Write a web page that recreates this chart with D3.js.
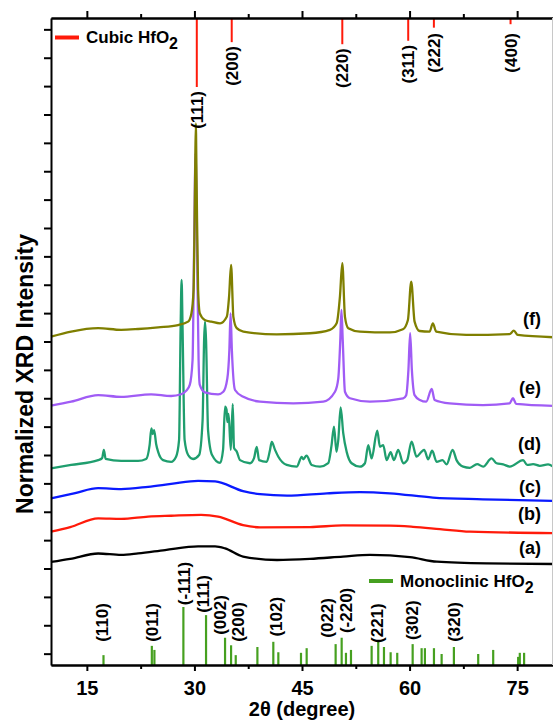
<!DOCTYPE html>
<html>
<head>
<meta charset="utf-8">
<script src="https://cdn.jsdelivr.net/npm/d3@7"></script>
<style>
  body { margin: 0; background: #fff; }
  svg { display: block; }
  text { font-family: "Liberation Sans", Arial, Helvetica, sans-serif; font-weight: bold; fill: #000; }
</style>
</head>
<body>
<svg id="chart" width="553" height="723"></svg>
<script>
// ---- XRD patterns: [2θ (deg), normalized intensity (offset-stacked, a.u.)] ----
const patternA = [[10.0,3.23],[12.68,3.34],[16.58,3.53],[19.78,3.48],[22.15,3.53],[25.91,3.65],[30.51,3.78],[32.88,3.78],[34.27,3.71],[36.78,3.42],[41.52,3.30],[46.11,3.34],[50.71,3.42],[54.47,3.48],[60.05,3.40],[63.81,3.24],[70.78,3.18],[80.0,3.16]];

const patternB = [[10.0,4.30],[12.68,4.46],[16.58,4.77],[19.78,4.75],[23.54,4.83],[26.75,4.86],[30.93,4.89],[33.30,4.83],[36.78,4.53],[39.15,4.45],[46.11,4.46],[50.71,4.52],[57.26,4.51],[60.47,4.47],[64.23,4.39],[68.41,4.30],[80.0,4.25]];

const patternC = [[10.0,5.47],[13.37,5.66],[16.58,5.83],[19.78,5.80],[23.54,5.88],[26.75,5.98],[30.51,6.09],[32.88,6.07],[36.78,5.73],[39.15,5.62],[42.91,5.57],[48.48,5.65],[53.08,5.69],[57.26,5.65],[63.25,5.50],[70.22,5.44],[80.0,5.38]];

const patternD = [[10.0,6.53],[12.81,6.65],[16.58,6.82],[17.13,6.89],[17.37,7.18],[17.62,6.86],[19.78,6.79],[22.15,6.79],[23.26,6.86],[23.75,7.35],[24.00,7.94],[24.18,7.74],[24.38,7.88],[24.66,7.39],[24.94,7.11],[25.63,6.82],[26.75,6.76],[27.44,6.94],[27.86,7.53],[28.07,11.41],[28.21,13.17],[28.35,11.41],[28.63,7.53],[29.12,7.00],[29.81,6.86],[30.65,7.00],[31.14,8.23],[31.35,11.05],[31.48,11.70],[31.62,11.05],[31.90,7.88],[32.46,7.00],[33.58,6.72],[33.99,7.18],[34.27,8.70],[34.48,8.59],[34.59,8.16],[34.76,8.45],[35.07,7.18],[35.34,8.79],[35.52,7.25],[35.90,7.12],[36.36,6.82],[37.75,6.71],[38.31,6.89],[38.69,7.29],[39.01,6.82],[40.08,6.76],[40.54,7.18],[40.78,7.46],[41.24,7.18],[41.70,6.94],[42.87,6.65],[44.26,6.59],[44.96,6.93],[45.18,6.85],[45.63,6.98],[46.35,6.65],[47.51,6.59],[48.66,6.71],[49.11,7.32],[49.46,8.00],[49.81,7.11],[50.06,7.53],[50.39,8.68],[50.75,7.77],[51.23,7.11],[51.92,6.71],[53.08,6.59],[53.78,6.71],[54.24,7.35],[54.71,6.88],[55.49,7.86],[55.87,7.29],[56.33,7.35],[56.80,6.82],[57.36,7.10],[57.82,6.82],[58.42,7.18],[59.11,6.71],[59.67,6.82],[60.28,7.47],[60.98,6.94],[61.68,7.12],[62.04,7.18],[62.60,6.85],[63.15,7.15],[63.77,6.76],[64.60,6.82],[65.16,6.67],[66.00,7.18],[66.55,6.82],[67.47,6.59],[68.41,6.55],[69.42,6.68],[70.26,6.59],[71.43,6.88],[72.13,6.71],[73.05,6.67],[73.98,6.59],[75.83,6.82],[76.39,6.65],[77.23,6.68],[78.16,6.62],[79.32,6.67],[80.0,6.59]];

const patternE = [[10.0,8.74],[12.81,8.88],[16.58,9.11],[19.78,9.05],[23.96,9.14],[26.75,9.08],[28.14,9.14],[28.84,9.26],[29.35,9.47],[29.74,10.35],[29.95,14.22],[30.16,17.64],[30.37,14.22],[30.58,10.35],[30.75,9.47],[31.44,9.21],[33.30,9.14],[34.03,9.23],[34.59,9.70],[34.87,10.70],[35.04,11.99],[35.22,10.70],[35.66,9.29],[36.82,9.05],[39.15,8.88],[43.79,8.82],[47.97,8.88],[49.60,9.23],[50.06,9.70],[50.34,11.05],[50.50,12.11],[50.68,11.05],[50.99,9.23],[51.69,9.00],[54.47,8.88],[59.11,9.00],[59.53,9.11],[59.84,10.00],[60.08,11.29],[60.32,10.00],[60.70,9.11],[61.44,8.94],[62.32,8.88],[63.09,9.33],[63.49,8.94],[65.58,8.82],[70.22,8.76],[73.94,8.82],[74.43,9.00],[74.86,8.80],[80.0,8.73]];

const patternF = [[10.0,11.17],[12.81,11.35],[16.58,11.47],[19.78,11.41],[22.15,11.44],[24.94,11.50],[27.72,11.58],[29.12,11.70],[29.58,11.99],[29.88,12.82],[30.09,16.69],[30.19,18.69],[30.30,16.69],[30.51,12.82],[30.75,11.99],[31.44,11.76],[32.36,11.70],[33.58,11.64],[34.51,11.87],[34.83,12.58],[35.11,13.70],[35.43,11.87],[35.90,11.47],[36.82,11.35],[41.47,11.25],[46.11,11.29],[48.90,11.41],[49.83,11.64],[50.29,12.58],[50.62,13.76],[50.99,11.87],[51.45,11.47],[53.08,11.35],[57.26,11.32],[59.07,11.43],[59.77,11.76],[60.23,13.11],[60.70,11.70],[61.40,11.37],[62.79,11.35],[63.25,11.64],[63.71,11.35],[67.89,11.23],[73.94,11.26],[74.54,11.38],[75.09,11.23],[80.0,11.15]];

const sampleNames = ["(a)", "(b)", "(c)", "(d)", "(e)", "(f)"];
const samplePatterns = [patternA, patternB, patternC, patternD, patternE, patternF];

// ---- Reference stick patterns ----
const cubicHkl   = ["(111)", "(200)", "(220)", "(311)", "(222)", "(400)"];
const cubicTheta = [30.33, 35.20, 50.62, 59.81, 63.39, 74.08];
const cubicRel   = [100, 35, 38, 33, 14, 9];

const monoTheta = [17.32,24.06,24.42,28.46,31.62,34.27,35.11,35.76,38.78,41.00,41.70,44.86,45.65,49.69,50.53,51.13,51.83,54.71,55.63,56.43,57.36,58.28,60.43,61.68,62.14,63.40,64.47,66.18,69.57,71.66,75.14,75.37,75.97];
const monoRel   = [17,33,26,100,86,47,34,17,31,40,22,21,29,36,47,21,26,33,40,31,22,21,36,29,29,29,19,31,19,26,14,21,21];
const monoLabelHkl   = ["(110)","(011)","(-111)","(111)","(002)","(200)","(102)","(022)","(-220)","(221)","(302)","(320)"];
const monoLabelTheta = [17.09,24.10,28.52,31.16,33.53,35.99,41.33,48.53,51.09,55.49,60.37,66.18];
const monoLabelRel   = [40,40,103,90,52,40,49,47,55,38,43,40];

// ---- Axes ----
const xDomain = [10, 80];
const xMajorTicks = [15, 30, 45, 60, 75];
const xMinorTicks = [22.5, 37.5, 52.5, 67.5];
const yDomain = [-0.4, 22.4];
const yTicks = [0,1,2,3,4,5,6,7,8,9,10,11,12,13,14,15,16,17,18,19,20,21,22];

// ---- Drawing ----
const svg = d3.select("#chart");
const L = 51, R = 553, T = 18, B = 665;

const x = d3.scaleLinear().domain(xDomain).range([L, R]);
const y = d3.scaleLinear().domain(yDomain).range([B, T]);
const yCubic = d3.scaleLinear().domain([0, 100]).range([T, 87]);
const yMono = d3.scaleLinear().domain([0, 100]).range([B, 607]);

const colors = ["#000000", "#ff1a0a", "#0a1aff", "#1f9e6e", "#a05cf5", "#7f7f00"];
const labelLift = [10, 13, 8, 17, 12, 12];
const stickGreen = "#46a020";

svg.append("rect").attr("width", 553).attr("height", 723).attr("fill", "#fff");

// monoclinic reference sticks
svg.append("g").selectAll("line").data(monoTheta).join("line")
  .attr("x1", d => x(d)).attr("x2", d => x(d))
  .attr("y1", B).attr("y2", (d, i) => yMono(monoRel[i]))
  .attr("stroke", stickGreen).attr("stroke-width", 2.2);

svg.append("g").selectAll("text").data(monoLabelHkl).join("text")
  .attr("transform", (d, i) => `translate(${x(monoLabelTheta[i])},${yMono(monoLabelRel[i])}) rotate(-90)`)
  .attr("dy", "0.36em").attr("text-anchor", "start")
  .attr("font-size", 17).text(d => d);

// diffraction patterns
const line = d3.line().curve(d3.curveMonotoneX).x(d => x(d[0])).y(d => y(d[1]));
svg.append("g").selectAll("path").data(samplePatterns).join("path")
  .attr("d", line).attr("fill", "none")
  .attr("stroke", (d, i) => colors[i]).attr("stroke-width", 2.3)
  .attr("stroke-linejoin", "round");

// sample labels
svg.append("g").selectAll("text").data(sampleNames).join("text")
  .attr("x", 541)
  .attr("y", (d, i) => y(samplePatterns[i][samplePatterns[i].length - 1][1]) - labelLift[i])
  .attr("text-anchor", "end").attr("font-size", 18).text(d => d);

// cubic reference sticks hanging from the top axis
svg.append("g").selectAll("line").data(cubicTheta).join("line")
  .attr("x1", d => x(d)).attr("x2", d => x(d))
  .attr("y1", T).attr("y2", (d, i) => yCubic(cubicRel[i]))
  .attr("stroke", "#ff1a0a").attr("stroke-width", 2);

svg.append("g").selectAll("text").data(cubicHkl).join("text")
  .attr("transform", (d, i) => `translate(${x(cubicTheta[i])},${Math.max(yCubic(cubicRel[i]) + 4, 33)}) rotate(-90)`)
  .attr("dy", "0.36em").attr("text-anchor", "end")
  .attr("font-size", 17).text(d => d);

// axes
function styleAxis(g) {
  g.select(".domain").attr("stroke", "#000").attr("stroke-width", 2);
  g.selectAll(".tick line").attr("stroke", "#000").attr("stroke-width", 2);
  g.selectAll(".tick text").attr("font-size", 20).attr("font-family", null).attr("fill", "#000");
}

svg.append("g").attr("transform", `translate(0,${B})`)
  .call(d3.axisBottom(x).tickValues(xMajorTicks).tickSize(6).tickSizeOuter(0).tickPadding(10).tickFormat(d3.format("d")))
  .call(styleAxis);
svg.append("g").attr("transform", `translate(0,${B})`)
  .call(d3.axisBottom(x).tickValues(xMinorTicks).tickSize(4).tickSizeOuter(0).tickFormat(""))
  .call(styleAxis);

svg.append("g").attr("transform", `translate(0,${T})`)
  .call(d3.axisTop(x).tickValues(xMajorTicks).tickSize(7).tickSizeOuter(0).tickFormat(""))
  .call(styleAxis);
svg.append("g").attr("transform", `translate(0,${T})`)
  .call(d3.axisTop(x).tickValues(xMinorTicks).tickSize(4).tickSizeOuter(0).tickFormat(""))
  .call(styleAxis);

svg.append("g").attr("transform", `translate(${L},0)`)
  .call(d3.axisLeft(y).tickValues(yTicks).tickSize(7).tickSizeOuter(0).tickFormat(""))
  .call(styleAxis);

svg.append("line").attr("x1", 552.5).attr("x2", 552.5).attr("y1", T).attr("y2", B)
  .attr("stroke", "#c8c8c8").attr("stroke-width", 1);

// axis titles
svg.append("text").attr("x", 302).attr("y", 716).attr("text-anchor", "middle")
  .attr("font-size", 20).text("2θ (degree)");
svg.append("text").attr("transform", "translate(33,374) rotate(-90)")
  .attr("text-anchor", "middle").attr("font-size", 23).text("Normalized XRD Intensity");

// legends
function legend(x0, yLine, color, label) {
  svg.append("line").attr("x1", x0).attr("x2", x0 + 24).attr("y1", yLine).attr("y2", yLine)
    .attr("stroke", color).attr("stroke-width", 4);
  const t = svg.append("text").attr("x", x0 + 31).attr("y", yLine + 5.5).attr("font-size", 17);
  t.append("tspan").text(label);
  t.append("tspan").attr("dy", 6).attr("font-size", 16).text("2");
}
legend(55, 37.5, "#ff1a0a", "Cubic HfO");
legend(369, 581, stickGreen, "Monoclinic HfO");
</script>
</body>
</html>
